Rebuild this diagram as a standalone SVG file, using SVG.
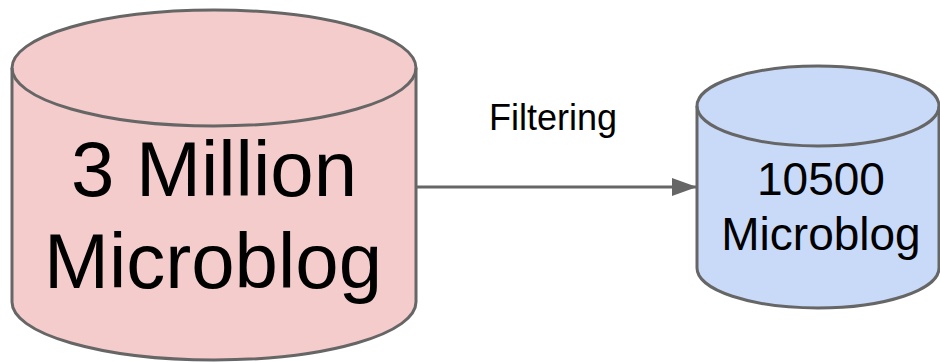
<svg xmlns="http://www.w3.org/2000/svg" width="940" height="362" viewBox="0 0 940 362">
<style>
.cyl{stroke:#666666;stroke-width:3}
.t{font-family:"Liberation Sans",Arial,sans-serif;fill:#000;text-anchor:middle}
</style>
<defs>
<marker id="ah" markerWidth="25" markerHeight="18" refX="25" refY="9" orient="auto" markerUnits="userSpaceOnUse" viewBox="0 0 25 18">
<path d="M0,0 L25,9 L0,18 Z" fill="#666666"/>
</marker>
</defs>
<rect width="940" height="362" fill="#ffffff"/>
<g id="connectors">
<line x1="417" y1="187" x2="697" y2="187" stroke="#666666" stroke-width="3" marker-end="url(#ah)"/>
<text class="t" x="553" y="130" font-size="36">Filtering</text>
</g>
<g id="big">
<path class="cyl" fill="#f4cccc" d="M12,68 A202,58 0 0 1 416,68 L416,302 A202,58 0 0 1 12,302 Z"/>
<path class="cyl" fill="none" d="M12,68 A202,58 0 0 0 416,68"/>
<text class="t" x="214" y="196" font-size="78">3 Million</text>
<text class="t" x="213" y="288" font-size="78">Microblog</text>
</g>
<g id="small">
<path class="cyl" fill="#c9daf8" d="M697,106 A121,40 0 0 1 939,106 L939,268 A121,40 0 0 1 697,268 Z"/>
<path class="cyl" fill="none" d="M697,106 A121,40 0 0 0 939,106"/>
<text class="t" x="821" y="195" font-size="46">10500</text>
<text class="t" x="821" y="250" font-size="46">Microblog</text>
</g>
</svg>
